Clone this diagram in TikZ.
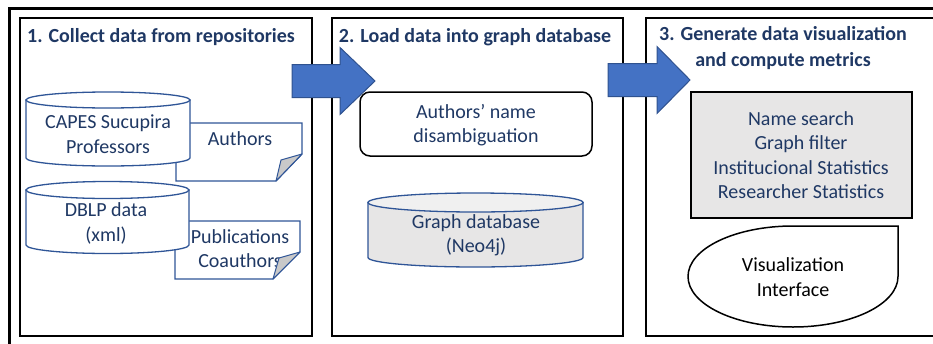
\documentclass[tikz,border=0pt]{standalone}
\usepackage{fontspec}
\setmainfont{Carlito}
\definecolor{navy}{HTML}{1F3864}
\definecolor{cylblue}{HTML}{2F5597}
\definecolor{arrfill}{HTML}{4472C4}
\definecolor{arrline}{HTML}{2F528F}
\definecolor{lgray}{HTML}{E7E6E6}
\definecolor{topgray}{HTML}{F0F0F0}
\definecolor{foldgray}{HTML}{C9C9C9}
\newcommand\mycyl[7]{% cx, rx, ytop, ybot, ry, bodyfill, topfill
  \filldraw[cyl,fill=#6] ({#1-#2},-#3) -- ({#1-#2},-#4)
    arc[start angle=180,end angle=360,x radius=#2pt,y radius=#5pt] -- ({#1+#2},-#3) -- cycle;
  \filldraw[cyl,fill=#7] (#1,-#3) ellipse[x radius=#2pt,y radius=#5pt];
}
\begin{document}
\begin{tikzpicture}[x=1pt,y=1pt,
  panel/.style={draw=black,line width=2pt},
  ttl/.style={text=navy,font=\bfseries\fontsize{20}{26}\selectfont,inner sep=0pt,align=center},
  txt/.style={text=navy,font=\fontsize{20}{24.4}\selectfont,align=center,inner sep=0pt},
  cyl/.style={draw=cylblue,line width=1.3pt},
  doc/.style={draw=cylblue,line width=1.3pt,fill=white},
  foldst/.style={draw=cylblue,fill=foldgray,line width=1pt,line join=round},
  bigarrow/.style={draw=arrline,fill=arrfill,line width=1pt},
]
\useasboundingbox (0,0) rectangle (933,-343);
\clip (0,0) rectangle (933,-343);
% outer frame
\draw[line width=3pt] (9.5,-360) -- (9.5,-8.5) -- (960,-8.5);
% panels
\draw[panel] (20,-18) rectangle (312,-336);
\draw[panel] (332,-18) rectangle (623,-336);
\draw[panel] (646,-18) rectangle (960,-336);
% titles
\node[ttl] (t1) at (161,-37) {1. Collect data from repositories};
\node[ttl] (t2) at (475,-37) {2. Load data into graph database};
\node[ttl] (t3) at (783,-48.5) {3. Generate data visualization\\and compute metrics};
% documents (behind cylinders)
\draw[doc] (176,-123) -- (302,-123) -- (302,-154) -- (276,-181) -- (176,-181) -- cycle;
\draw[doc] (175,-221) -- (300,-221) -- (300,-252) -- (273,-279) -- (175,-279) -- cycle;
\node[txt] (authors) at (240,-139) {Authors};
\node[txt] (pubs) at (240,-248.5) {Publications\\Coauthors};
\filldraw[foldst] (302,-154) -- (281,-160) -- (276,-181) -- cycle;
\filldraw[foldst] (300,-252) -- (279,-258) -- (273,-279) -- cycle;
% cylinders
\mycyl{108}{82}{100}{158}{8}{white}{white}
\node[txt] (capes) at (108,-134) {CAPES Sucupira\\Professors};
\mycyl{107.5}{81.5}{190}{245}{8.5}{white}{white}
\node[txt] (dblp) at (106,-223.5) {DBLP data\\(xml)};
\mycyl{475.5}{107.5}{202.5}{257.5}{9.5}{lgray}{topgray}
\node[txt] (neo) at (476,-235) {Graph database\\(Neo4j)};
% panel 2 rounded box
\draw[black,line width=1.5pt,rounded corners=10pt] (360,-92) rectangle (592,-156);
\node[txt] (disamb) at (476,-125) {Authors’ name\\disambiguation};
% panel 3
\filldraw[fill=lgray,draw=black,line width=1.8pt] (691,-92) rectangle (912,-218);
\node[txt] (funcs) at (801,-155) {Name search\\Graph filter\\Institucional Statistics\\Researcher Statistics};
\draw[black,line width=1.5pt,fill=white] (793,-226)
  arc[start angle=90,end angle=360,x radius=105pt,y radius=50.5pt] -- (898,-226) -- cycle;
\node[txt,text=black] (vis) at (793,-277) {Visualization\\Interface};
% big arrows
\filldraw[bigarrow] (292,-64.5) -- (340,-64.5) -- (340,-47.5) -- (375,-81) -- (340,-114.5) -- (340,-97.5) -- (292,-97.5) -- cycle;
\filldraw[bigarrow] (608,-63.5) -- (657,-63.5) -- (657,-46.5) -- (690,-80) -- (657,-113.5) -- (657,-96.5) -- (608,-96.5) -- cycle;
\end{tikzpicture}
\end{document}
